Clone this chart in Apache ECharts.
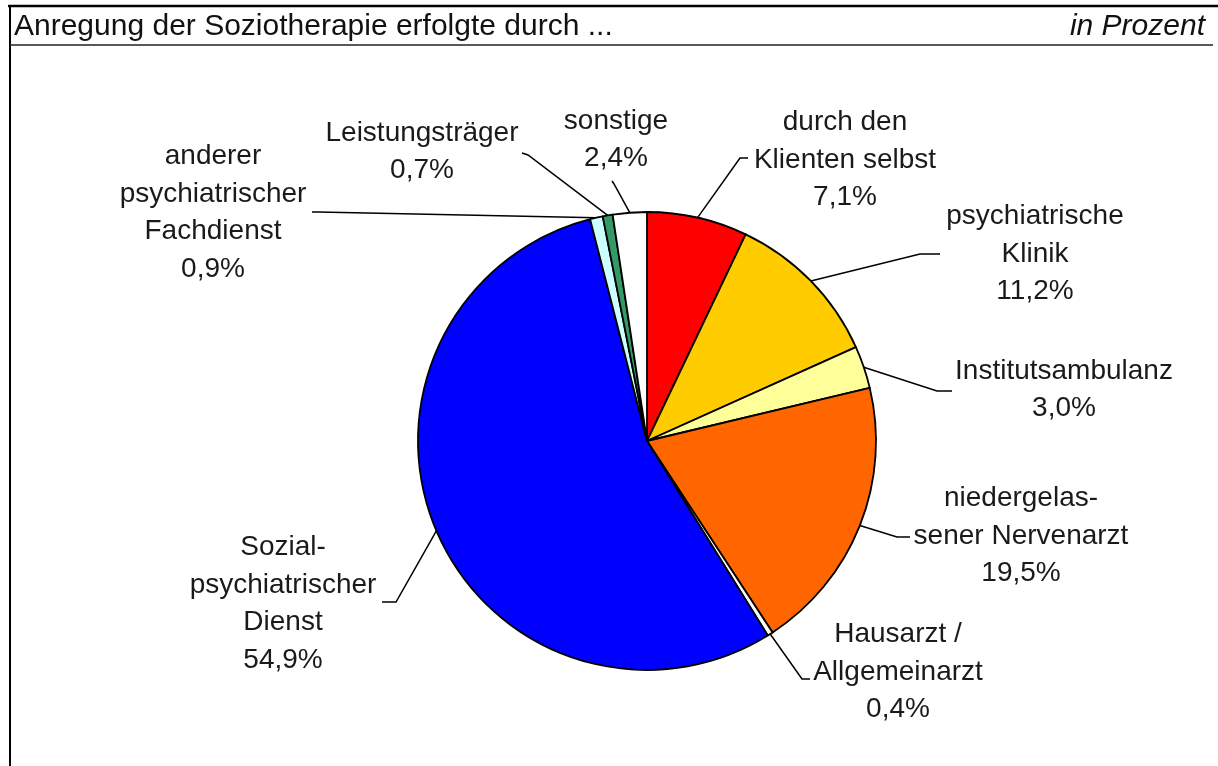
<!DOCTYPE html>
<html>
<head>
<meta charset="utf-8">
<script src="https://cdn.jsdelivr.net/npm/echarts@6/dist/echarts.min.js"></script>
<style>
  html, body { margin: 0; padding: 0; background: #fff; }
  #chart { width: 1218px; height: 766px; }
</style>
</head>
<body>
<div id="chart"></div>
<script>
// data
var categories = [
    'durch den\nKlienten selbst',
    'psychiatrische\nKlinik',
    'Institutsambulanz',
    'niedergelas-\nsener Nervenarzt',
    'Hausarzt /\nAllgemeinarzt',
    'Sozial-\npsychiatrischer\nDienst',
    'anderer\npsychiatrischer\nFachdienst',
    'Leistungsträger',
    'sonstige'
];
var values = [7.1, 11.2, 3.0, 19.5, 0.4, 54.9, 0.9, 0.7, 2.4];
var colors = ['#ff0000', '#ffcc00', '#ffff99', '#ff6600', '#ffffff', '#0000ff', '#ccffff', '#339966', '#ffffff'];

// label placement (label centre, then elbow and end of the leader line)
var labelPos = [
    [845, 160, 740, 158, 748, 158],
    [1035, 254, 920, 254, 940, 254],
    [1064, 390, 937, 391, 952, 391],
    [1021, 536, 897, 537, 910, 537],
    [898, 672, 802, 679, 810, 679],
    [283, 604, 396, 602, 382, 602],
    [213, 213, 318, 212, 312, 212],
    [422, 152, 528, 155, 522, 153],
    [616, 140, 614, 184, 612, 181]
];

var fontFamily = "'Liberation Sans', Arial, sans-serif";

var chartDom = document.getElementById('chart');
var myChart = echarts.init(chartDom);

var option = {
    animation: false,
    backgroundColor: '#fff',
    graphic: [
        { type: 'line', shape: { x1: 8, y1: 6, x2: 1218, y2: 6 }, style: { stroke: '#000', lineWidth: 2.5 } },
        { type: 'line', shape: { x1: 10, y1: 6, x2: 10, y2: 766 }, style: { stroke: '#000', lineWidth: 2 } },
        { type: 'line', shape: { x1: 10, y1: 45, x2: 1213, y2: 45 }, style: { stroke: '#222', lineWidth: 1.5 } },
        {
            type: 'text', left: 14, top: 12,
            style: { text: 'Anregung der Soziotherapie erfolgte durch ...', font: '30px ' + fontFamily, fill: '#111' }
        },
        {
            type: 'text', right: 13, top: 12,
            style: { text: 'in Prozent', font: 'italic 30px ' + fontFamily, fill: '#111' }
        }
    ],
    series: [
        {
            type: 'pie',
            center: [647, 441],
            radius: [0, 229],
            startAngle: 90,
            clockwise: true,
            avoidLabelOverlap: false,
            itemStyle: {
                borderColor: '#000',
                borderWidth: 1.8
            },
            label: {
                show: true,
                position: 'outside',
                color: '#1a1a1a',
                fontFamily: fontFamily,
                fontSize: 28,
                lineHeight: 37.5,
                align: 'center',
                formatter: function (p) {
                    return p.name + '\n' + p.value.toFixed(1).replace('.', ',') + '%';
                }
            },
            labelLine: {
                show: true,
                lineStyle: { color: '#000', width: 1.5 }
            },
            labelLayout: function (params) {
                var lp = labelPos[params.dataIndex];
                var start = params.labelLinePoints ? params.labelLinePoints[0] : [lp[2], lp[3]];
                return {
                    x: lp[0],
                    y: lp[1],
                    align: 'center',
                    verticalAlign: 'middle',
                    labelLinePoints: [start, [lp[2], lp[3]], [lp[4], lp[5]]]
                };
            },
            data: categories.map(function (c, i) {
                return { name: c, value: values[i], itemStyle: { color: colors[i] } };
            })
        }
    ]
};

myChart.setOption(option);
</script>
</body>
</html>
